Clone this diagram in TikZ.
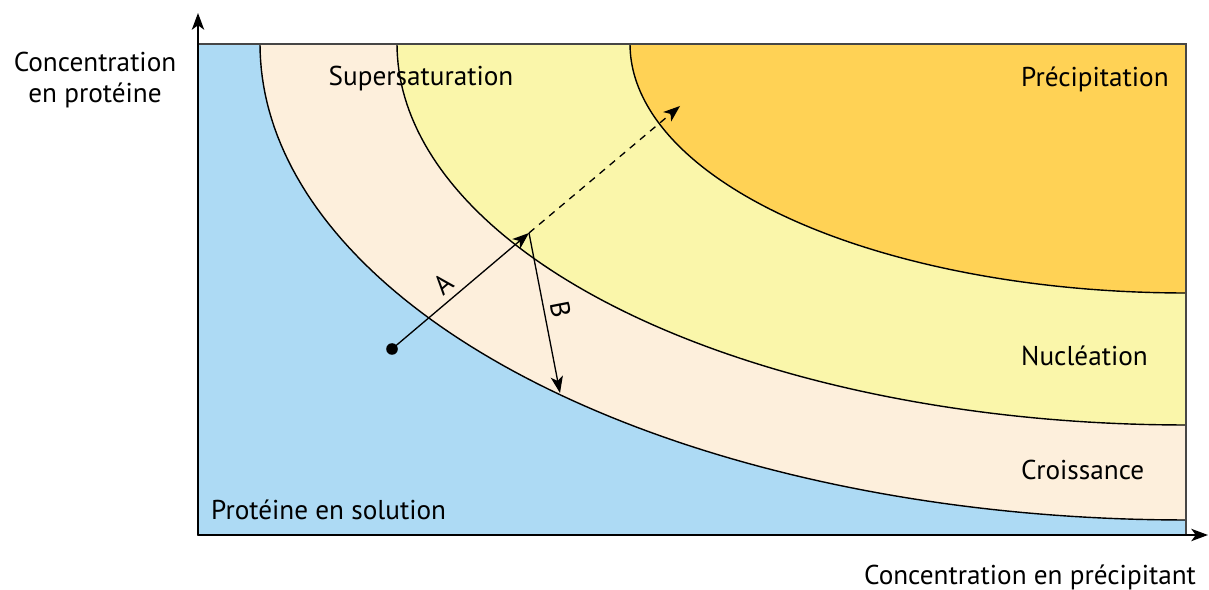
\documentclass[tikz,border=0pt]{standalone}
\usepackage{fontspec}
\setmainfont{PT Sans}
\usetikzlibrary{arrows.meta}
\definecolor{SolBlue}  {RGB}{173,218,244}
\definecolor{GrowCream}{RGB}{253,239,220}
\definecolor{NuclYel}  {RGB}{250,246,170}
\definecolor{PrecOr}   {RGB}{255,210, 85}
\definecolor{FrameG}   {RGB}{70, 70, 70}

\begin{document}
\begin{tikzpicture}[x=0.02cm,y=-0.02cm,
    every node/.style={font=\fontsize{15.5}{17.6}\selectfont},
    tip/.style={-{Stealth[length=9.5pt,width=7pt,inset=2.5pt]}},
    zone/.style={line width=0.8pt}]
  \useasboundingbox (0,0) rectangle (1209,590);
  \fill[SolBlue] (198,44) rectangle (1186,535);
  \foreach \rx/\ry/\col in {926/476/GrowCream,789/381/NuclYel,556/249/PrecOr}{
    \fill[\col] (1186,44) -- plot[domain=0:90,samples=90]
      ({1186-\rx*cos(\x)},{44+\ry*sin(\x)}) -- cycle;
    \draw[zone] plot[domain=0:90,samples=90]
      ({1186-\rx*cos(\x)},{44+\ry*sin(\x)});
  }
  \draw[FrameG,line width=0.7pt] (198,44) rectangle (1186,535);
  \coordinate (O) at (198,535);
  \coordinate (ytop) at (198,13);
  \coordinate (xend) at (1208,535);
  \draw[line width=1.1pt,tip] (O) -- (ytop);
  \draw[line width=1.1pt,tip] (O) -- (xend);

  \coordinate (start) at (392,349);
  \coordinate (P) at (529,233);
  \coordinate (Bend) at (560,393);
  \coordinate (Dend) at (680,106);
  \fill (start) circle[radius=3.3pt];
  \draw[line width=0.75pt,tip] (start) -- node[above,sloped,pos=0.45]{A} (P);
  \draw[line width=0.75pt,tip] (P) -- node[above,sloped]{B} (Bend);
  \draw[line width=0.75pt,tip,dash pattern=on 4pt off 3.5pt] (P) -- (Dend);

  \node (sup) at (421,79) {Supersaturation};
  \node[anchor=west] (prec) at (1015,79) {Précipitation};
  \node[anchor=west] (nucl) at (1015,356) {Nucléation};
  \node[anchor=west] (crois) at (1015,470) {Croissance};
  \node[anchor=west] (sol) at (205,510) {Protéine en solution};
  \node[align=center] (ylab) at (95,80) {Concentration\\en protéine};
  \node (xlab) at (1030,577) {Concentration en précipitant};
\end{tikzpicture}
\end{document}
